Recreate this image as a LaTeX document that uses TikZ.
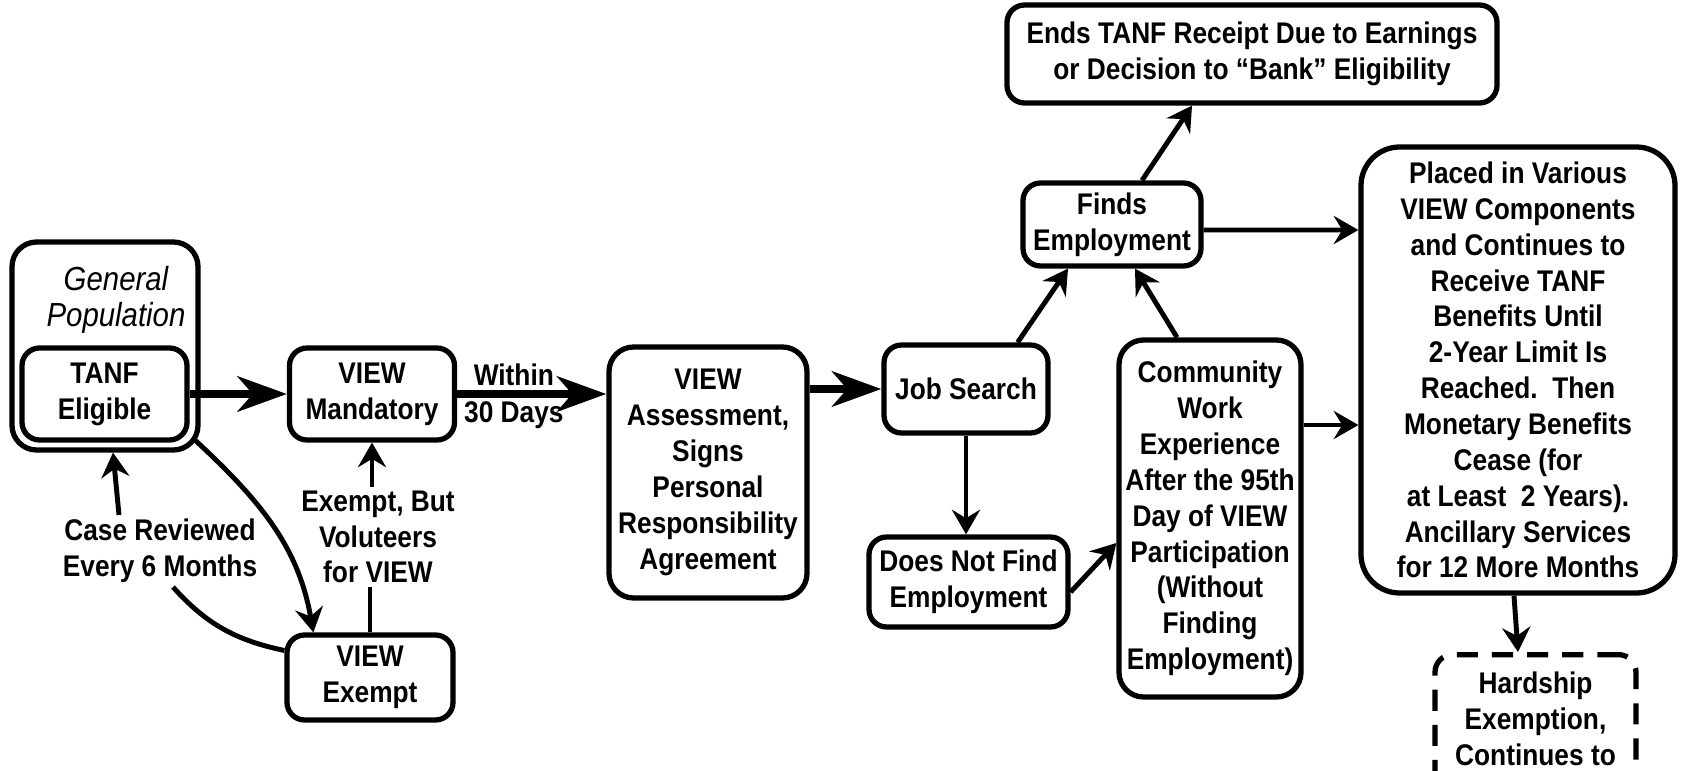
\documentclass[tikz,border=0pt]{standalone}
\usepackage{fontspec}
\setmainfont{Liberation Sans}[FakeStretch=0.88]
\usepackage{tikz}
\usetikzlibrary{arrows.meta}
\tikzstyle{flow_box} = [rectangle, rounded corners=5pt, draw=black, line width=1.5pt, align=center, inner xsep=1pt, inner ysep=2pt, font=\fontsize{8.5}{10.2}\selectfont\bfseries]
\tikzstyle{outer_box} = [rectangle, rounded corners=7pt, draw=black, line width=1.5pt]
\tikzstyle{dash_box} = [flow_box, dash pattern=on 6pt off 4pt]
\tikzstyle{note_text} = [align=center, inner sep=1pt, font=\fontsize{8.5}{10.2}\selectfont\bfseries]
\tikzstyle{title_text} = [align=center, inner sep=1pt, font=\fontsize{9.5}{10.2}\selectfont\itshape]
\tikzstyle{big_arrow} = [line width=2.5pt, -{Stealth[length=14pt, width=10pt, inset=4.3pt]}]
\tikzstyle{arrow} = [line width=1.4pt, -{Stealth[length=7pt, width=8pt, inset=2.4pt]}]
\tikzstyle{plain_line} = [line width=1.4pt]

\begin{document}
\begin{tikzpicture}
    \useasboundingbox (0,0) rectangle (16.88,7.70);
    \clip (0,0) rectangle (16.88,7.70);

    \node(gp) [outer_box, minimum width=1.86cm, minimum height=2.08cm] at (1.05,4.24) {};
    \node(gptitle) [title_text] at (1.16,4.70) {General\\Population};
    \node(tanf) [flow_box, minimum width=1.65cm, minimum height=0.92cm] at (1.045,3.76) {TANF\\Eligible};
    \node(mandatory) [flow_box, minimum width=1.65cm, minimum height=0.92cm] at (3.72,3.76) {VIEW\\Mandatory};
    \node(exempt) [flow_box, minimum width=1.66cm, minimum height=0.85cm] at (3.70,0.925) {VIEW\\Exempt};
    \node(exlabel) [note_text] at (3.78,2.33) {Exempt, But\\Voluteers\\for VIEW};
    \node(caselabel) [note_text] at (1.60,2.19) {Case Reviewed\\Every 6 Months};

    \node(assess) [flow_box, rounded corners=7pt, minimum width=1.98cm, minimum height=2.51cm] at (7.08,2.975) {VIEW\\Assessment,\\Signs\\Personal\\Responsibility\\Agreement};
    \node(jobsearch) [flow_box, minimum width=1.64cm, minimum height=0.88cm] at (9.66,3.81) {Job Search};
    \node(dnf) [flow_box, minimum width=1.99cm, minimum height=0.90cm] at (9.685,1.88) {Does Not Find\\Employment};
    \node(community) [flow_box, rounded corners=7pt, minimum width=1.82cm, minimum height=3.57cm] at (12.10,2.515) {Community\\Work\\Experience\\After the 95th\\Day of VIEW\\Participation\\(Without\\Finding\\Employment)};
    \node(finds) [flow_box, minimum width=1.78cm, minimum height=0.83cm] at (11.12,5.455) {Finds\\Employment};
    \node(ends) [flow_box, minimum width=4.90cm, minimum height=0.98cm] at (12.52,7.16) {Ends TANF Receipt Due to Earnings\\or Decision to “Bank” Eligibility};
    \node(placed) [flow_box, rounded corners=11pt, minimum width=3.14cm, minimum height=4.46cm] at (15.18,4.00) {Placed in Various\\VIEW Components\\and Continues to\\Receive TANF\\Benefits Until\\2-Year Limit Is\\Reached.\ \ Then\\Monetary Benefits\\Cease (for\\at Least\ \ 2 Years).\\Ancillary Services\\for 12 More Months};
    \node(hardship) [dash_box, anchor=north, inner ysep=5pt, minimum width=2.01cm, text depth=2cm] at (15.355,1.18) {Hardship\\Exemption,\\Continues to};

    \draw[big_arrow] (tanf) -- (mandatory);
    \draw[big_arrow] (mandatory) -- node[note_text, above, pos=0.38]{Within} node[note_text, below, pos=0.38]{30 Days} (mandatory -| assess.west);
    \draw[big_arrow] (assess.east |- jobsearch) -- (jobsearch);
    \draw[arrow] (jobsearch) -- (jobsearch |- dnf.north);
    \draw[arrow] ([xshift=-0.33cm]jobsearch.north east) -- ([xshift=-0.44cm]finds.south);
    \draw[arrow] ([xshift=-0.33cm]community.north) -- ([xshift=0.23cm]finds.south);
    \draw[arrow] ([yshift=-0.1cm]dnf.east) -- ([yshift=-0.245cm]community.west);
    \draw[arrow] ([xshift=0.3cm]finds.north) -- ([xshift=-0.6cm]ends.south);
    \draw[arrow] ([yshift=-0.055cm]finds.east) -- ([yshift=1.4cm]placed.west);
    \draw[arrow] ([yshift=0.935cm]community.east) -- ([yshift=-0.55cm]placed.west);
    \draw[arrow] ([xshift=-0.04cm]placed.south) -- ([xshift=-0.175cm]hardship.north);

    \draw[arrow] (exlabel.north -| mandatory) -- (mandatory);
    \draw[plain_line] (exempt) -- (exempt |- exlabel.south);
    \draw[arrow] ([xshift=-0.41cm]caselabel.north) -- ([xshift=0.08cm]gp.south);
    \draw[arrow] ([xshift=-0.05cm,yshift=0.12cm]gp.south east) to[out=-43, in=100] ([xshift=0.29cm]exempt.north west);
    \draw[plain_line] ([yshift=0.27cm]exempt.west) to[out=168, in=-48] ([xshift=0.13cm]caselabel.south);
\end{tikzpicture}
\end{document}
